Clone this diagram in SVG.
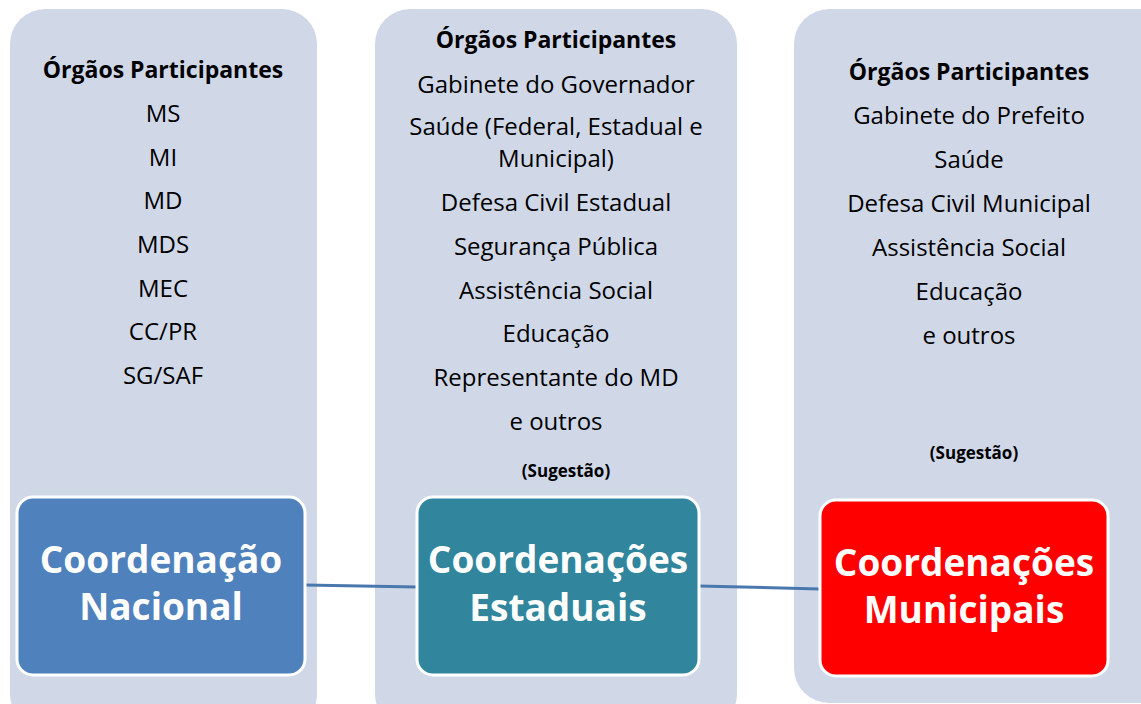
<svg xmlns="http://www.w3.org/2000/svg" width="1141" height="704" viewBox="0 0 1141 704">
<style>
.panel{fill:#D0D8E8}
.t{font-family:"Open Sans","Liberation Sans",sans-serif;font-size:24px;fill:#000;text-anchor:middle}
.h{font-weight:bold;font-size:23px}
.s{font-family:"Open Sans","Liberation Sans",sans-serif;font-size:17px;font-weight:bold;fill:#000;text-anchor:middle}
.box{stroke:#fff;stroke-width:3}
.bt{font-family:"Open Sans","Liberation Sans",sans-serif;font-size:37px;font-weight:bold;fill:#fff;text-anchor:middle}
.conn{stroke:#4A78AE;stroke-width:3;fill:none}
</style>
<rect width="1141" height="704" fill="#fff"/>
<g id="panel-nacional">
<rect class="panel" x="10" y="9" width="307" height="720" rx="35"/>
<text class="t h" x="163" y="78">Órgãos Participantes</text>
<text class="t" x="163" y="122">MS</text>
<text class="t" x="163" y="166">MI</text>
<text class="t" x="163" y="209">MD</text>
<text class="t" x="163" y="253">MDS</text>
<text class="t" x="163" y="297">MEC</text>
<text class="t" x="163" y="340">CC/PR</text>
<text class="t" x="163" y="384">SG/SAF</text>
</g>
<g id="panel-estadual">
<rect class="panel" x="375" y="9" width="362" height="720" rx="35"/>
<text class="t h" x="556" y="48">Órgãos Participantes</text>
<text class="t" x="556" y="93">Gabinete do Governador</text>
<text class="t" x="556" y="135">Saúde (Federal, Estadual e</text>
<text class="t" x="556" y="167">Municipal)</text>
<text class="t" x="556" y="211">Defesa Civil Estadual</text>
<text class="t" x="556" y="255">Segurança Pública</text>
<text class="t" x="556" y="299">Assistência Social</text>
<text class="t" x="556" y="342">Educação</text>
<text class="t" x="556" y="386">Representante do MD</text>
<text class="t" x="556" y="430">e outros</text>
<text class="s" x="566" y="477">(Sugestão)</text>
</g>
<g id="panel-municipal">
<rect class="panel" x="794" y="9" width="380" height="694" rx="35"/>
<text class="t h" x="969" y="80">Órgãos Participantes</text>
<text class="t" x="969" y="124">Gabinete do Prefeito</text>
<text class="t" x="969" y="168">Saúde</text>
<text class="t" x="969" y="212">Defesa Civil Municipal</text>
<text class="t" x="969" y="256">Assistência Social</text>
<text class="t" x="969" y="300">Educação</text>
<text class="t" x="969" y="344">e outros</text>
<text class="s" x="974" y="459">(Sugestão)</text>
</g>
<g id="connectors">
<line class="conn" x1="305" y1="585" x2="417" y2="587"/>
<line class="conn" x1="699" y1="586" x2="820" y2="589"/>
</g>
<g id="node-nacional">
<rect class="box" x="17" y="497" width="288" height="178" rx="16" fill="#4F81BD"/>
<text class="bt" x="161" y="573">Coordenação</text>
<text class="bt" x="161" y="620">Nacional</text>
</g>
<g id="node-estaduais">
<rect class="box" x="417" y="497" width="282" height="178" rx="16" fill="#31859C"/>
<text class="bt" x="558" y="573">Coordenações</text>
<text class="bt" x="558" y="621">Estaduais</text>
</g>
<g id="node-municipais">
<rect class="box" x="820" y="500" width="288" height="176" rx="16" fill="#FF0000"/>
<text class="bt" x="964" y="576">Coordenações</text>
<text class="bt" x="964" y="623">Municipais</text>
</g>
</svg>
